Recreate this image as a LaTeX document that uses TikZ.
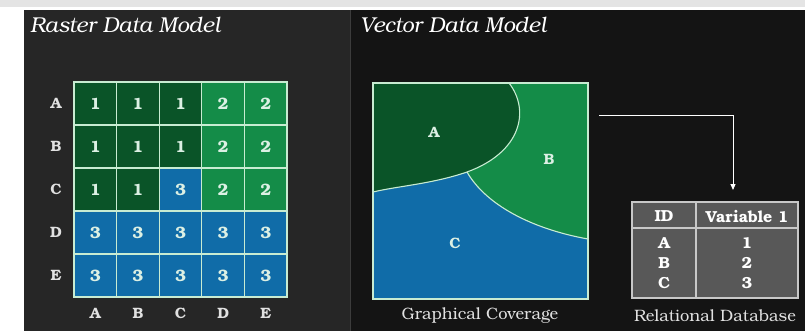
\documentclass[tikz,border=0pt]{standalone}
\usepackage{fontspec}
\setmainfont{texgyrebonum}[Extension=.otf, UprightFont=*-regular, BoldFont=*-bold, ItalicFont=*-italic, BoldItalicFont=*-bolditalic]
\usetikzlibrary{arrows.meta}
\definecolor{leftbg}{RGB}{38,38,38}
\definecolor{rightbg}{RGB}{20,20,20}
\definecolor{topband}{RGB}{228,228,228}
\definecolor{c1}{RGB}{10,84,40}
\definecolor{c2}{RGB}{20,140,72}
\definecolor{c3}{RGB}{16,108,168}
\definecolor{cellline}{RGB}{200,236,210}
\definecolor{celltext}{RGB}{220,240,228}
\definecolor{labtext}{RGB}{225,225,225}
\definecolor{tablefill}{RGB}{88,88,88}
\definecolor{tableline}{RGB}{200,200,200}
\definecolor{divider}{RGB}{60,60,60}
\tikzset{
  cell/.style={draw=cellline, line width=1.2pt, minimum width=42.6pt, minimum height=43pt, inner sep=0pt,
    font=\bfseries\fontsize{16.5}{16.5}\selectfont, text=celltext},
  axislab/.style={font=\bfseries\fontsize{15}{15}\selectfont, text=labtext, inner sep=0pt},
  title/.style={font=\itshape\fontsize{21.5}{21.5}\selectfont, text=white, anchor=west, inner sep=0pt},
  caption/.style={font=\fontsize{16.5}{16.5}\selectfont, text=labtext, inner sep=0pt},
  region/.style={font=\bfseries\fontsize{15}{15}\selectfont, text=celltext, inner sep=0pt},
  tabtext/.style={font=\bfseries\fontsize{16}{16}\selectfont, text=white, inner sep=0pt},
  boundary/.style={draw=cellline, line width=1.1pt},
  link/.style={draw=white, line width=0.9pt, -{Triangle[width=5pt,length=6pt]}}
}
\begin{document}
\begin{tikzpicture}[x=1pt,y=-1pt]
\useasboundingbox (0,0) rectangle (805,335);
% page background
\fill[white] (0,0) rectangle (805,335);
\fill[topband] (0,0) rectangle (805,7);
\fill[leftbg] (24,10) rectangle (350,331);
\fill[rightbg] (350,10) rectangle (805,331);
\draw[line width=0.8pt, divider] (350,10) -- (350,331);

% titles
\node[title] (rtitle) at (30,25) {Raster Data Model};
\node[title] (vtitle) at (360,25) {Vector Data Model};

% raster grid
\foreach \row/\vals [count=\i from 0] in {A/{1,1,1,2,2},B/{1,1,1,2,2},C/{1,1,3,2,2},D/{3,3,3,3,3},E/{3,3,3,3,3}} {
  \node[axislab] (row-\i) at (56,{82+43*\i+21.5}) {\row};
  \foreach \v [count=\j from 0] in \vals {
    \node[cell, fill=c\v] (cell-\i-\j) at ({74+42.6*\j+21.3},{82+43*\i+21.5}) {\v};
  }
}
\foreach \c [count=\j from 0] in {A,B,C,D,E} {
  \node[axislab] (col-\j) at ({74+42.6*\j+21.3},313) {\c};
}

% vector coverage
\node[draw=none, minimum width=215pt, minimum height=216pt, inner sep=0pt] (cover) at (480.5,191) {};
\fill[c3] (373,83) rectangle (588,299);
\fill[c2] (373,83) -- (588,83) -- (588,239) .. controls (532,229) and (486,205) .. (467,172)
   .. controls (432,184) and (398,186) .. (373,192) -- cycle;
\fill[c1] (373,83) -- (509,83) .. controls (530,110) and (522,152) .. (467,172)
   .. controls (432,184) and (398,186) .. (373,192) -- cycle;
\draw[boundary] (509,83) .. controls (530,110) and (522,152) .. (467,172)
   .. controls (432,184) and (398,186) .. (373,192);
\draw[boundary] (467,172) .. controls (486,205) and (532,229) .. (588,239);
\draw[draw=cellline, line width=1.2pt] (373,83) rectangle (588,299);
\node[region] (regA) at (434,132) {A};
\node[region] (regB) at (549,159) {B};
\node[region] (regC) at (455,243) {C};
\node[caption] (gcap) at (480,316) {Graphical Coverage};

% relational table
\node[draw=tableline, fill=tablefill, line width=1.3pt, minimum width=166pt, minimum height=96pt, inner sep=0pt] (table) at (715,250) {};
\draw[tableline, line width=1.3pt] (632,228) -- (798,228);
\draw[tableline, line width=1.3pt] (696,202) -- (696,298);
\node[tabtext] (hid) at (664,216) {ID};
\node[tabtext] (hvar) at (747,216) {Variable 1};
\node[tabtext] (idA) at (664,243) {A};
\node[tabtext] (idB) at (664,263) {B};
\node[tabtext] (idC) at (664,283) {C};
\node[tabtext] (v1) at (747,243) {1};
\node[tabtext] (v2) at (747,263) {2};
\node[tabtext] (v3) at (747,283) {3};
\node[caption] (rcap) at (715,316) {Relational Database};

% connector
\coordinate (arrowstart) at (599,115);
\coordinate (arrowend) at (733,190);
\draw[link] (arrowstart) -| (arrowend);
\end{tikzpicture}
\end{document}
